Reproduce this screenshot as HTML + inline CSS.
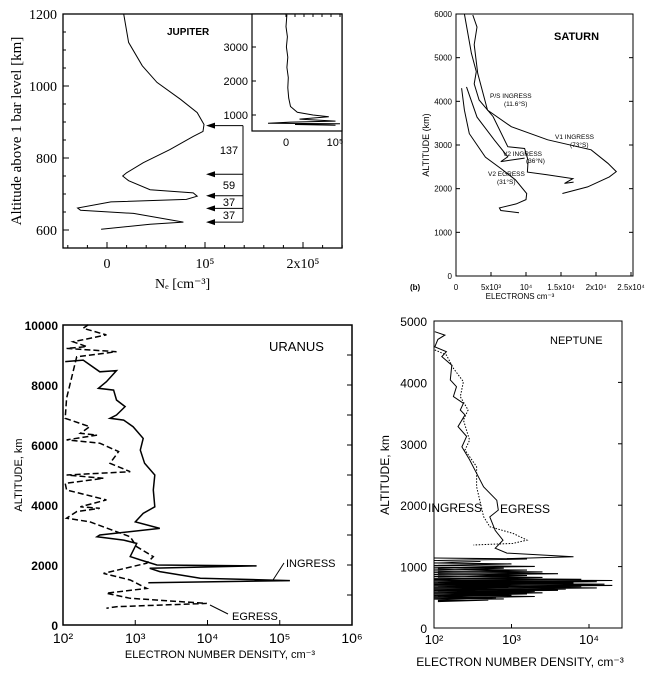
<!DOCTYPE html>
<html><head><meta charset="utf-8"><style>
html,body{margin:0;padding:0;background:#fff;}
svg{display:block;font-family:"Liberation Sans",sans-serif;}
.serif{font-family:"Liberation Serif",serif;}
</style></head><body>
<svg id="fig" width="661" height="675" viewBox="0 0 661 675">
<g id="jup"></g>
<g id="sat"></g>
<g id="ura"></g>
<g id="nep"></g>
</svg>
<script>
// ---------- DATA ----------
const jupNe  = [0.17,0.22,0.36,0.51,0.75,0.92,0.99,0.98,0.88,0.64,0.37,0.2,0.16,0.22,0.44,0.88,0.92,0.81,0.04,-0.3,-0.27,0.27,0.78,0.44,-0.06];
const jupAlt = [1200,1121,1056,1010,963,926,893,874,860,823,787,759,750,737,712,703,694,685,678,661,655,646,622,616,602];
const jupArrowAlt = [890,755,695,660,622];
const jupGapLabels = ["137","59","37","37"];
const jupXTicks = [0,1,2];
const jupXTickLabels = ["0","10\u2075","2x10\u2075"];
const jupYTicks = [600,800,1000,1200];
const insNe  = [0.02,0.0,0.03,0.01,0.04,0.02,0.05,0.04,0.06,0.1,0.25,0.6,0.95,0.3,1.1,0.1,-0.4,1.2,0.2,1.1];
const insAlt = [3950,3600,3300,3000,2700,2400,2100,1800,1500,1250,1080,1000,950,880,820,790,760,740,720,700];
const insYTicks = [1000,2000,3000];
const satV1x = [2.4,3.0,2.6,3.1,4.5,7.9,13.1,19.3,21.7,22.9,21.9,18.8,15.2];
const satV1y = [5977,5700,5300,4641,3800,3420,3120,2890,2580,2390,2270,2040,1890];
const satPSx = [1.2,2.2,2.9,2.6,3.3,5.3,7.4,9.8,10.3,10.2,13.0,16.7,15.5,16.8];
const satPSy = [6000,5100,4680,4400,4030,3650,2960,2920,2650,2380,2320,2230,2120,2150];
const satV2Ix = [1.5,3.0,5.5,7.4,6.4,9.8];
const satV2Iy = [4330,3640,3110,2730,2620,2700];
const satV2Ex = [0.8,1.2,1.9,4.2,6.5,8.5,10.1,10.0,8.6,6.2,6.4,9.0];
const satV2Ey = [4300,3800,3260,2720,2450,2200,1890,1750,1650,1560,1500,1450];
const satXTicks = [0,5,10,15,20,25];
const satXTickLabels = ["0","5x10\u00b3","10\u2074","1.5x10\u2074","2x10\u2074","2.5x10\u2074"];
const satYTicks = [0,1000,2000,3000,4000,5000,6000];
const uraInLog = [2.03,2.28,2.51,2.74,2.60,2.49,2.70,2.74,2.86,2.74,2.65,2.84,2.97,3.11,3.07,3.13,3.27,3.25,3.27,3.11,3.00,3.34,2.51,2.47,2.84,3.02,2.93,3.07,3.30,4.68,3.20,3.34,3.90,5.14,3.18];
const uraInAlt = [8780,8830,8440,8480,8110,7890,7830,7500,7280,7000,6890,6830,6610,6220,5830,5390,5000,4500,3940,3720,3440,3220,3000,2940,2830,2720,2280,2170,2000,1970,1890,1780,1560,1480,1410];
const uraEgLog = [2.35,2.28,2.60,2.14,2.33,2.05,2.74,2.19,2.05,2.03,2.37,2.24,2.47,2.05,2.51,2.77,2.65,2.93,2.05,2.56,2.03,2.05,2.60,2.24,2.51,2.19,2.05,2.37,2.74,2.93,3.02,3.25,3.16,2.56,2.93,3.16,2.60,2.93,3.99,2.74,2.60];
const uraEgAlt = [10010,9890,9670,9440,9280,9220,9110,8940,7560,6890,6610,6390,6330,6170,6060,5780,5390,5110,5000,4890,4720,4500,4170,3940,3890,3780,3560,3440,3110,2940,2610,2280,2060,1720,1500,1220,1060,890,720,610,560];
const uraXTicks = [2,3,4,5,6];
const uraYTicks = [0,2000,4000,6000,8000,10000];
const nepEgLog = [2.01,2.14,2.05,2.01,2.16,2.10,2.23,2.21,2.29,2.25,2.38,2.34,2.40,2.31,2.42,2.36,2.46,2.55,2.64,2.81,2.83,2.72,2.79,2.89,2.79,2.94,3.80,2.94];
const nepEgAlt = [4826,4770,4700,4580,4500,4420,4280,4040,3930,3770,3660,3550,3470,3280,3120,2950,2740,2520,2300,2080,1920,1810,1590,1430,1300,1220,1160,1130];
const nepInLog = [2.01,2.16,2.25,2.38,2.34,2.44,2.38,2.46,2.40,2.55,2.55,2.59,2.64,2.72,3.02,3.20,3.02,2.51];
const nepInAlt = [4530,4446,4229,4012,3767,3550,3387,3061,2898,2627,2301,2084,1812,1650,1541,1432,1378,1351];
const nepSpikeAlt = [1140,1100,1060,1020,990,960,930,900,870,840,810,790,770,750,730,710,690,670,650,630,610,590,570,550,530,510,490,470];
const nepSpikeLog = [3.2,2.6,3.0,3.3,2.9,3.2,3.4,3.6,3.2,3.4,3.9,4.3,4.1,3.8,4.2,4.3,3.9,4.1,3.7,3.6,3.3,3.4,3.2,3.0,3.3,2.8,2.9,2.7];
const nepXTicks = [2,3,4];
const nepYTicks = [0,1000,2000,3000,4000,5000];

// ---------- HELPERS ----------
const NS="http://www.w3.org/2000/svg";
function mk(parent,tag,attrs,txt){const e=document.createElementNS(NS,tag);for(const k in attrs)e.setAttribute(k,attrs[k]);if(txt!==undefined)e.textContent=txt;parent.appendChild(e);return e;}
function lin(d0,d1,p0,p1){return v=>p0+(v-d0)*(p1-p0)/(d1-d0);}
function pathD(xs,ys,fx,fy){return xs.map((v,i)=>(i?'L':'M')+fx(v).toFixed(1)+' '+fy(ys[i]).toFixed(1)).join(' ');}
function sup(n){return {"2":"\u00b2","3":"\u00b3","4":"\u2074","5":"\u2075","6":"\u2076"}[n];}

// ---------- JUPITER ----------
(function(){
const g=document.getElementById('jup');
const fx=lin(0,1,107,205), fy=lin(600,1200,230,14);
const fr=mk(g,'rect',{x:63,y:14,width:279,height:234,fill:'none',stroke:'#000','stroke-width':1.3});

jupYTicks.forEach(t=>{const y=fy(t);mk(g,'line',{x1:63,y1:y,x2:69,y2:y,stroke:'#000'});
 const l=mk(g,'text',{x:57,y:y+5,'text-anchor':'end','font-size':14,class:'serif'},String(t));
 });
for(let a=600;a<=1200;a+=50){mk(g,'line',{x1:63,y1:fy(a),x2:66,y2:fy(a),stroke:'#000'});}
jupXTicks.forEach((t,i)=>{const x=fx(t);mk(g,'line',{x1:x,y1:248,x2:x,y2:242,stroke:'#000'});
 const l=mk(g,'text',{x:x,y:268,'text-anchor':'middle','font-size':14,class:'serif'},jupXTickLabels[i]);
 });
for(let v=-0.4;v<=2.4;v+=0.2){mk(g,'line',{x1:fx(v),y1:248,x2:fx(v),y2:245,stroke:'#000'});}
const c=mk(g,'path',{d:pathD(jupNe,jupAlt,fx,fy),fill:'none',stroke:'#000','stroke-width':1});

const ax=243;
mk(g,'line',{x1:ax,y1:fy(jupArrowAlt[0]),x2:ax,y2:fy(jupArrowAlt[jupArrowAlt.length-1]),stroke:'#000'});
jupArrowAlt.forEach(a=>{const y=fy(a);const ar=mk(g,'line',{x1:ax,y1:y,x2:214,y2:y,stroke:'#000'});
 
 mk(g,'path',{d:`M206 ${y} L215 ${y-3} L215 ${y+3}Z`,fill:'#000'});});
jupGapLabels.forEach((s,i)=>{const y=(fy(jupArrowAlt[i])+fy(jupArrowAlt[i+1]))/2;
 const l=mk(g,'text',{x:229,y:y+4,'text-anchor':'middle','font-size':11},s);
 });
const t=mk(g,'text',{x:167,y:35,'font-size':10,'font-weight':'bold'},'JUPITER');

const yl=mk(g,'text',{x:0,y:0,'font-size':15,class:'serif','text-anchor':'middle',transform:'translate(21,131) rotate(-90)'},'Altitude above 1 bar level  [km]');

const xl=mk(g,'text',{x:155,y:288,'font-size':14,class:'serif'},'N\u2091   [cm\u207b\u00b3]');

const ifx=lin(0,1,286,331), ify=lin(1000,3000,115,47);
const ib=mk(g,'rect',{x:252,y:14,width:90,height:117,fill:'#fff',stroke:'#000','stroke-width':1.2});

insYTicks.forEach(tk=>{const y=ify(tk);mk(g,'line',{x1:252,y1:y,x2:256,y2:y,stroke:'#000'});
 const l=mk(g,'text',{x:248,y:y+4,'text-anchor':'end','font-size':11},String(tk));
 });
for(let v=0;v<=1.2;v+=0.2){mk(g,'line',{x1:ifx(v),y1:14,x2:ifx(v),y2:17,stroke:'#000'});}
const i0=mk(g,'text',{x:ifx(0),y:146,'text-anchor':'middle','font-size':11},'0');

const i1=mk(g,'text',{x:ifx(1)+4,y:146,'text-anchor':'middle','font-size':11},'10\u2075');

const ic=mk(g,'path',{d:pathD(insNe,insAlt,ifx,ify),fill:'none',stroke:'#000','stroke-width':1});

})();

// ---------- SATURN ----------
(function(){
const g=document.getElementById('sat');
const fx=lin(0,25,456,631), fy=lin(0,6000,276,14);
const fr=mk(g,'rect',{x:456,y:14,width:177,height:262,fill:'none',stroke:'#000','stroke-width':1});

satYTicks.forEach(t=>{const y=fy(t);mk(g,'line',{x1:456,y1:y,x2:460,y2:y,stroke:'#000'});mk(g,'line',{x1:633,y1:y,x2:629,y2:y,stroke:'#000'});
 const l=mk(g,'text',{x:452,y:y+3,'text-anchor':'end','font-size':8},String(t));
 });
satXTicks.forEach((t,i)=>{const x=fx(t);mk(g,'line',{x1:x,y1:276,x2:x,y2:272,stroke:'#000'});
 const l=mk(g,'text',{x:x,y:290,'text-anchor':'middle','font-size':8},satXTickLabels[i]);
 });
[[satV1x,satV1y,'saturn-v1-ingress'],[satPSx,satPSy,'saturn-ps-ingress'],[satV2Ix,satV2Iy,'saturn-v2-ingress'],[satV2Ex,satV2Ey,'saturn-v2-egress']].forEach(s=>{
 const p=mk(g,'path',{d:pathD(s[0],s[1],fx,fy),fill:'none',stroke:'#000','stroke-width':1});
 });
const labs=[[490,98,'P/S INGRESS'],[504,106,'(11.6°S)'],[555,139,'V1 INGRESS'],[570,147,'(73°S)'],[503,156,'V2 INGRESS'],[526,163,'(36°N)'],[488,176,'V2 EGRESS'],[497,184,'(31°S)']];
labs.forEach(a=>{const l=mk(g,'text',{x:a[0],y:a[1],'font-size':6.5},a[2]);});
const t=mk(g,'text',{x:554,y:40,'font-size':11,'font-weight':'bold'},'SATURN');

const yl=mk(g,'text',{x:0,y:0,'font-size':9,'text-anchor':'middle',transform:'translate(429,145) rotate(-90)'},'ALTITUDE (km)');

const xl=mk(g,'text',{x:520,y:299,'font-size':8,'text-anchor':'middle'},'ELECTRONS cm\u207b\u00b3');

const b=mk(g,'text',{x:410,y:290,'font-size':8,'font-weight':'bold'},'(b)');

})();

// ---------- URANUS ----------
(function(){
const g=document.getElementById('ura');
const fx=lin(2,6,63,352), fy=lin(0,10000,625,325);
const fr=mk(g,'rect',{x:63,y:325,width:289,height:300,fill:'none',stroke:'#000','stroke-width':1.5});

uraYTicks.forEach(t=>{const y=fy(t);
 const l=mk(g,'text',{x:58,y:y+5,'text-anchor':'end','font-size':12,'font-weight':'bold'},String(t));
 });
for(let a=1000;a<10000;a+=1000){mk(g,'line',{x1:352,y1:fy(a),x2:347,y2:fy(a),stroke:'#000'});}
uraXTicks.forEach(t=>{const x=fx(t);mk(g,'line',{x1:x,y1:625,x2:x,y2:620,stroke:'#000'});
 const l=mk(g,'text',{x:x,y:643,'text-anchor':'middle','font-size':14},'10'+sup(String(t)));
 });
const p1=mk(g,'path',{d:pathD(uraInLog,uraInAlt,fx,fy),fill:'none',stroke:'#000','stroke-width':1.5});

const p2=mk(g,'path',{d:pathD(uraEgLog,uraEgAlt,fx,fy),fill:'none',stroke:'#000','stroke-width':1.5,'stroke-dasharray':'6 3'});

const li=mk(g,'text',{x:286,y:567,'font-size':11},'INGRESS');
mk(g,'line',{x1:284,y1:563,x2:273,y2:580,stroke:'#000'});
const le=mk(g,'text',{x:232,y:620,'font-size':11},'EGRESS');
mk(g,'line',{x1:228,y1:614,x2:210,y2:605,stroke:'#000'});
const t=mk(g,'text',{x:269,y:351,'font-size':13},'URANUS');

const yl=mk(g,'text',{x:0,y:0,'font-size':11,'text-anchor':'middle',transform:'translate(22,475) rotate(-90)'},'ALTITUDE, km');

const xl=mk(g,'text',{x:220,y:658,'font-size':11,'text-anchor':'middle'},'ELECTRON NUMBER DENSITY, cm\u207b\u00b3');

})();

// ---------- NEPTUNE ----------
(function(){
const g=document.getElementById('nep');
const fx=lin(2,4,434,589), fy=lin(0,5000,628,321);
const fr=mk(g,'rect',{x:434,y:321,width:188,height:307,fill:'none',stroke:'#000','stroke-width':1});

nepYTicks.forEach(t=>{const y=fy(t);mk(g,'line',{x1:622,y1:y,x2:618,y2:y,stroke:'#000'});
 const l=mk(g,'text',{x:427,y:y+5,'text-anchor':'end','font-size':12},String(t));
 });
nepXTicks.forEach(t=>{const x=fx(t);mk(g,'line',{x1:x,y1:628,x2:x,y2:624,stroke:'#000'});
 const l=mk(g,'text',{x:x,y:644,'text-anchor':'middle','font-size':13},'10'+sup(String(t)));
 });
const p1=mk(g,'path',{d:pathD(nepEgLog,nepEgAlt,fx,fy),fill:'none',stroke:'#000','stroke-width':1});

const p2=mk(g,'path',{d:pathD(nepInLog,nepInAlt,fx,fy),fill:'none',stroke:'#000','stroke-width':1,'stroke-dasharray':'1.5 1.5'});

let d='';nepSpikeAlt.forEach((a,i)=>{const y=fy(a);d+=`M${fx(2.0).toFixed(1)} ${y.toFixed(1)} L${fx(nepSpikeLog[i]).toFixed(1)} ${(y+1).toFixed(1)} L${fx(2.05).toFixed(1)} ${(y+2.5).toFixed(1)} `;});
const sp=mk(g,'path',{d:d,fill:'none',stroke:'#000','stroke-width':1.1});

const li=mk(g,'text',{x:428,y:512,'font-size':12},'INGRESS');
const le=mk(g,'text',{x:500,y:513,'font-size':12},'EGRESS');
const t=mk(g,'text',{x:550,y:344,'font-size':11},'NEPTUNE');

const yl=mk(g,'text',{x:0,y:0,'font-size':12,'text-anchor':'middle',transform:'translate(389,475) rotate(-90)'},'ALTITUDE, km');

const xl=mk(g,'text',{x:520,y:666,'font-size':12,'text-anchor':'middle'},'ELECTRON NUMBER DENSITY, cm\u207b\u00b3');

})();
</script>
</body></html>
